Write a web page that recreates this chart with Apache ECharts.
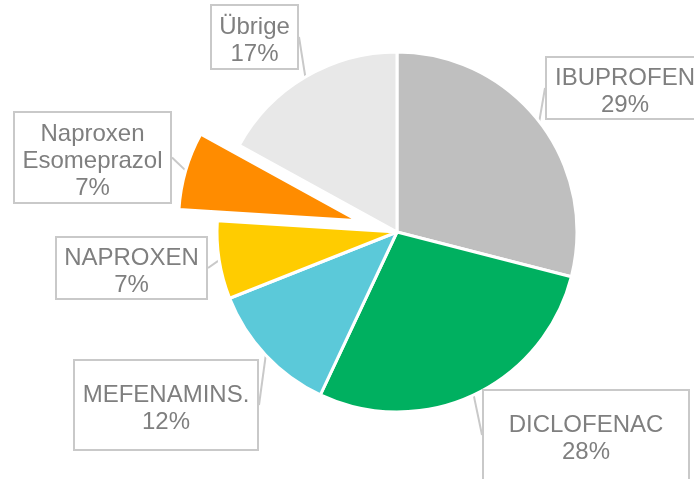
<!DOCTYPE html>
<html>
<head>
<meta charset="utf-8">
<style>
  html, body { margin: 0; padding: 0; background: #fff; }
  #chart { width: 694px; height: 479px; }
</style>
<script src="https://cdn.jsdelivr.net/npm/echarts@6/dist/echarts.min.js"></script>
</head>
<body>
<div id="chart"></div>
<script>
// data
var names = ['IBUPROFEN', 'DICLOFENAC', 'MEFENAMINS.', 'NAPROXEN', 'Naproxen\nEsomeprazol', 'Übrige'];
var shares = [29, 28, 12, 7, 7, 17];
var colors = ['#bfbfbf', '#00b060', '#5bc9d9', '#ffcc00', '#ff8c00', '#e8e8e8'];
var exploded = 4;

// callout boxes: left, top, width, height
var boxes = [
  [545, 58, 160, 64],
  [482, 391, 208, 92],
  [73, 361, 186, 92],
  [55, 238, 153, 64],
  [13, 113, 159, 93],
  [210, 6, 89, 66]
];
var lh = 27;
var cx = 397, cy = 232, r = 180, offset = 40;

// shift of the exploded slice along its middle angle
var total = shares.reduce(function (a, b) { return a + b; }, 0);
var before = 0;
for (var k = 0; k < exploded; k++) before += shares[k];
var midAng = (before + shares[exploded] / 2) / total * 2 * Math.PI;
var ecx = cx + offset * Math.sin(midAng);
var ecy = cy - offset * Math.cos(midAng);

var chart = echarts.init(document.getElementById('chart'));

function labelFor(i) {
  var b = boxes[i];
  var lines = names[i].split('\n').length + 1;
  var pad = (b[3] - 4 - lines * lh) / 2;
  return { show: true, width: b[2] - 4, padding: [pad + 4, 0, pad - 4, 0] };
}

var mainData = names.map(function (n, i) {
  var hide = i === exploded;
  return {
    name: n,
    value: shares[i],
    itemStyle: hide ? { color: 'transparent', borderWidth: 0 } : { color: colors[i] },
    label: hide ? { show: false } : labelFor(i),
    labelLine: { show: !hide }
  };
});

var explodedData = names.map(function (n, i) {
  var show = i === exploded;
  return {
    name: n,
    value: shares[i],
    itemStyle: show ? { color: colors[i] } : { color: 'transparent', borderWidth: 0 },
    label: show ? labelFor(i) : { show: false },
    labelLine: { show: show }
  };
});

var labelStyle = {
  show: true,
  position: 'outside',
  formatter: '{b}\n{c}%',
  color: '#7f7f7f',
  fontFamily: 'Liberation Sans, Arial, sans-serif',
  fontSize: 24,
  lineHeight: lh,
  align: 'center',
  backgroundColor: '#fff',
  borderColor: '#c9c9c9',
  borderWidth: 2
};

var layoutFn = function (p) {
  var b = boxes[p.dataIndex];
  return { x: b[0] + b[2] / 2, y: b[1], align: 'center', verticalAlign: 'top' };
};

var base = {
  type: 'pie',
  radius: r,
  startAngle: 90,
  clockwise: true,
  avoidLabelOverlap: false,
  silent: true,
  itemStyle: { borderColor: '#fff', borderWidth: 3 },
  emphasis: { disabled: true },
  label: labelStyle,
  labelLine: {
    show: true,
    length: 4,
    length2: 0,
    lineStyle: { color: '#c9c9c9', width: 2 }
  },
  labelLayout: layoutFn
};

var option = {
  animation: false,
  series: [
    Object.assign({}, base, { center: [cx, cy], data: mainData }),
    Object.assign({}, base, { center: [ecx, ecy], data: explodedData })
  ]
};

chart.setOption(option);
</script>
</body>
</html>
